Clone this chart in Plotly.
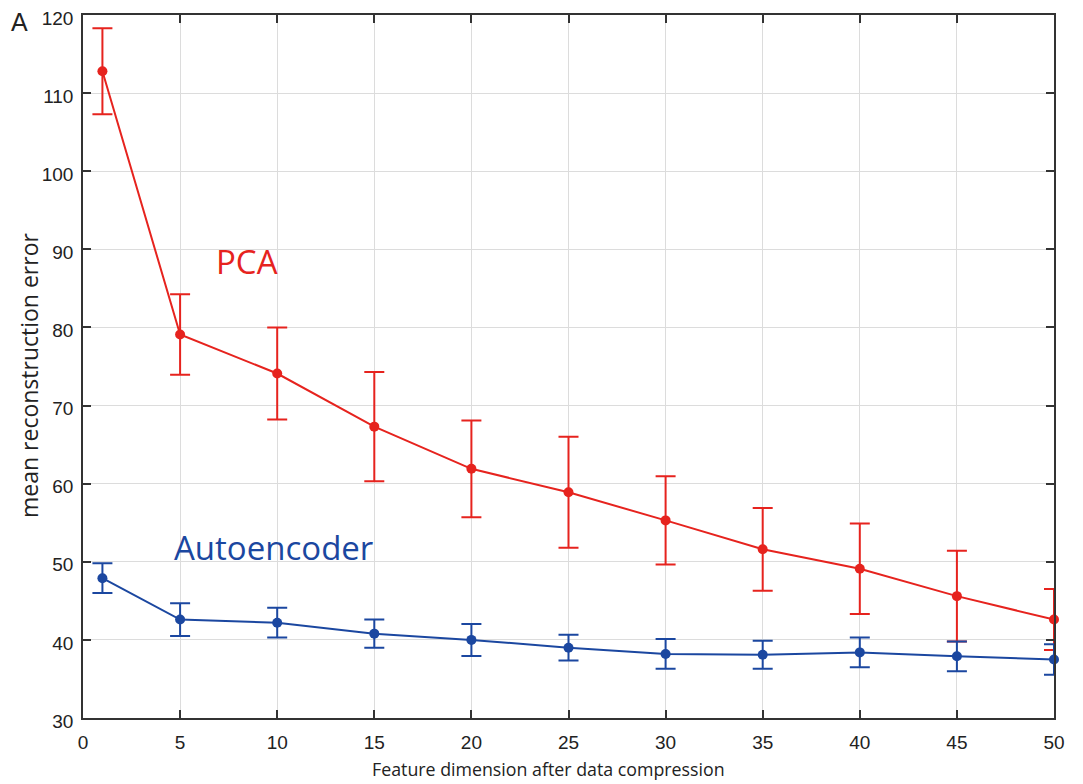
import plotly.graph_objects as go

dims = [1, 5, 10, 15, 20, 25, 30, 35, 40, 45, 50]
pca_mean = [112.8, 79.1, 74.1, 67.3, 61.9, 58.9, 55.3, 51.6, 49.1, 45.6, 42.6]
pca_err = [5.5, 5.15, 5.9, 7.0, 6.2, 7.1, 5.65, 5.3, 5.8, 5.8, 3.9]
ae_mean = [47.9, 42.6, 42.2, 40.8, 40.0, 39.0, 38.2, 38.1, 38.4, 37.9, 37.5]
ae_err = [1.9, 2.1, 1.9, 1.8, 2.05, 1.65, 1.9, 1.8, 1.9, 1.9, 1.95]
x_ticks = [0, 5, 10, 15, 20, 25, 30, 35, 40, 45, 50]
y_ticks = [30, 40, 50, 60, 70, 80, 90, 100, 110, 120]

RED = "#e6231e"
BLUE = "#1b47a0"

fig = go.Figure()
fig.add_trace(go.Scatter(
    x=dims, y=pca_mean, mode="lines+markers",
    line=dict(color=RED, width=2),
    marker=dict(color=RED, size=10),
    error_y=dict(type="data", array=pca_err, visible=True, color=RED, thickness=2, width=10),
    showlegend=False, cliponaxis=False,
))
fig.add_trace(go.Scatter(
    x=dims, y=ae_mean, mode="lines+markers",
    line=dict(color=BLUE, width=2),
    marker=dict(color=BLUE, size=10),
    error_y=dict(type="data", array=ae_err, visible=True, color=BLUE, thickness=2, width=10),
    showlegend=False, cliponaxis=False,
))

fig.add_annotation(x=8.45, y=88.4, text="PCA", showarrow=False,
                   font=dict(family="Open Sans", size=33, color=RED))
fig.add_annotation(x=9.8, y=51.8, text="Autoencoder", showarrow=False,
                   font=dict(family="Open Sans", size=33, color=BLUE))
fig.add_annotation(xref="paper", yref="paper", x=-0.065, y=0.99, xanchor="center", yanchor="middle",
                   text="A", showarrow=False,
                   font=dict(family="Liberation Sans", size=25, color="#222"))
# axis titles
fig.add_annotation(xref="paper", yref="paper", x=0.479, y=-0.0725, xanchor="center", yanchor="middle",
                   text="Feature dimension after data compression", showarrow=False,
                   font=dict(family="Open Sans", size=17.8, color="#222"))
fig.add_annotation(xref="paper", yref="paper", x=-0.0556, y=0.4865, xanchor="center", yanchor="middle",
                   text="mean reconstruction error", showarrow=False, textangle=-90,
                   font=dict(family="Open Sans", size=23, color="#222"))

axis_common = dict(
    showline=True, linecolor="#333", linewidth=1.5, mirror="ticks",
    ticks="inside", ticklen=8, tickcolor="#333", tickwidth=1.5,
    showgrid=True, gridcolor="#dcdcdc", gridwidth=1, zeroline=False,
    tickfont=dict(family="Liberation Sans", size=19, color="#222"),
    automargin=False, ticklabeloverflow="allow",
)

fig.update_xaxes(range=[0, 50], tickvals=x_ticks, ticklabelstandoff=6, **axis_common)
fig.update_yaxes(range=[30, 120], tickvals=y_ticks, ticklabelstandoff=4, ticklabelshift=3,
                 **axis_common)

fig.update_layout(
    width=1083, height=784,
    margin=dict(l=75, r=37, t=7, b=74),
    plot_bgcolor="white", paper_bgcolor="white",
)

fig.write_html("out.html")
